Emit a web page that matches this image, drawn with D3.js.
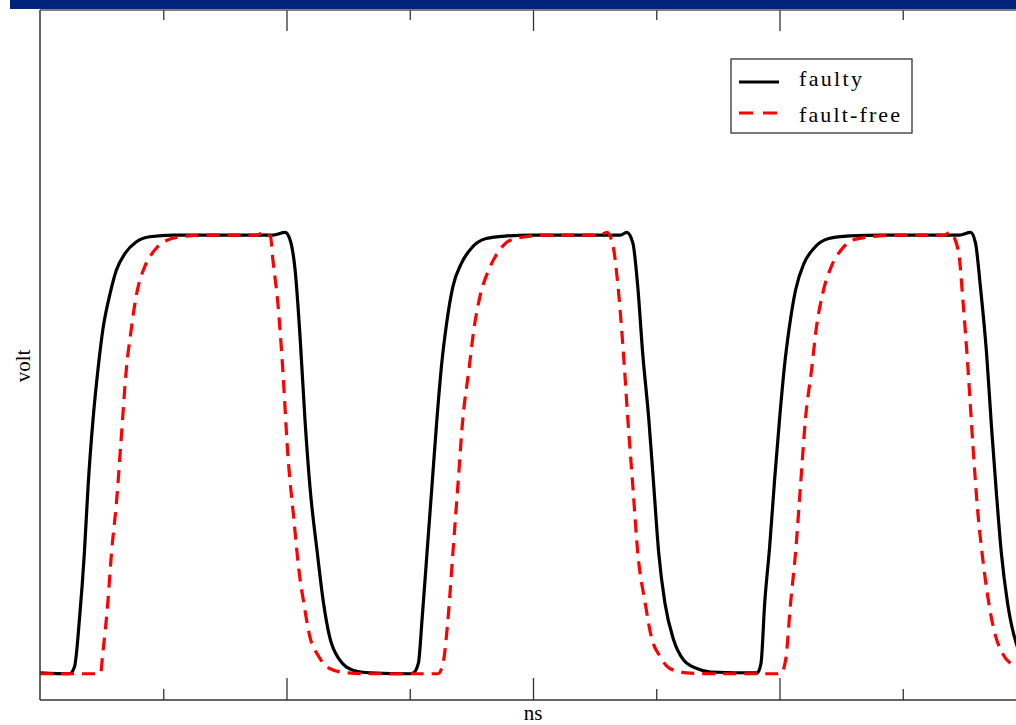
<!DOCTYPE html>
<html>
<head>
<meta charset="utf-8">
<script src="https://cdn.jsdelivr.net/npm/d3@7"></script>
<style>
  html, body { margin: 0; padding: 0; background: #fff; }
  svg { display: block; }
</style>
</head>
<body>
<div id="chart"></div>
<script>
// waveform samples: [ns, volt]
let faulty = [
    [0.00, 0.00], [0.24, -0.01], [0.28, 0.07], [0.32, 0.61], [0.36, 1.37], [0.39, 2.13],
    [0.43, 2.89], [0.47, 3.46], [0.51, 3.92], [0.57, 4.34], [0.62, 4.60], [0.69, 4.79],
    [0.78, 4.92], [0.89, 4.98], [1.08, 5.00], [1.89, 5.00], [1.99, 5.03], [2.03, 4.94],
    [2.07, 4.60], [2.11, 3.84], [2.15, 2.89], [2.19, 2.13], [2.25, 1.37], [2.30, 0.80],
    [2.35, 0.41], [2.43, 0.15], [2.54, 0.03], [2.68, 0.00],
    [3.00, -0.01], [3.03, 0.00], [3.07, 0.11], [3.10, 0.61], [3.14, 1.37], [3.18, 2.13],
    [3.22, 2.89], [3.26, 3.54], [3.30, 4.00], [3.35, 4.41], [3.42, 4.68], [3.50, 4.85],
    [3.62, 4.96], [3.79, 4.99], [3.98, 5.00], [4.71, 5.00], [4.76, 5.03], [4.81, 4.91],
    [4.85, 4.41], [4.89, 3.65], [4.94, 2.89], [4.98, 2.13], [5.02, 1.37], [5.07, 0.80],
    [5.14, 0.38], [5.22, 0.15], [5.33, 0.05], [5.44, 0.01],
    [5.82, 0.00], [5.85, 0.11], [5.88, 0.80], [5.92, 1.44], [5.96, 2.20], [6.00, 2.89],
    [6.04, 3.50], [6.08, 3.95], [6.13, 4.37], [6.20, 4.68], [6.28, 4.85], [6.40, 4.96],
    [6.57, 4.99], [6.84, 5.00], [7.46, 5.00], [7.55, 5.03], [7.59, 4.91], [7.63, 4.41],
    [7.68, 3.65], [7.72, 2.81], [7.76, 2.05], [7.80, 1.37], [7.85, 0.80], [7.92, 0.34],
    [7.99, 0.15]
];
let faultFree = [
    [0.00, -0.01], [0.49, -0.01], [0.51, 0.23], [0.55, 0.80], [0.58, 1.37], [0.62, 1.94],
    [0.66, 2.70], [0.70, 3.46], [0.74, 3.92], [0.78, 4.30], [0.85, 4.64], [0.92, 4.81],
    [1.00, 4.92], [1.14, 4.98], [1.35, 5.00], [1.76, 5.00], [1.81, 5.03], [1.87, 4.98],
    [1.89, 4.71], [1.93, 4.22], [1.97, 3.46], [2.01, 2.51], [2.06, 1.75], [2.10, 1.18],
    [2.14, 0.80], [2.19, 0.41], [2.26, 0.19], [2.35, 0.05], [2.49, 0.00], [2.68, -0.01],
    [3.23, -0.01], [3.27, 0.11], [3.31, 0.61], [3.35, 1.37], [3.39, 2.13], [3.43, 2.89],
    [3.48, 3.46], [3.52, 3.92], [3.57, 4.30], [3.64, 4.60], [3.71, 4.79], [3.79, 4.92],
    [3.89, 4.97], [4.11, 5.00], [4.54, 5.00], [4.60, 5.03], [4.65, 4.87], [4.69, 4.41],
    [4.73, 3.72], [4.77, 2.89], [4.81, 2.13], [4.85, 1.37], [4.91, 0.80], [4.96, 0.41],
    [5.03, 0.19], [5.11, 0.05], [5.25, 0.00], [5.44, -0.01],
    [6.01, -0.01], [6.05, 0.15], [6.09, 0.80], [6.13, 1.37], [6.17, 2.13], [6.21, 2.89],
    [6.26, 3.46], [6.30, 3.95], [6.35, 4.33], [6.42, 4.64], [6.50, 4.83], [6.59, 4.94],
    [6.73, 4.98], [6.95, 5.00], [7.34, 5.00], [7.38, 5.03], [7.45, 4.83], [7.49, 4.22],
    [7.53, 3.46], [7.57, 2.58], [7.61, 1.82], [7.65, 1.29], [7.69, 0.87], [7.74, 0.49],
    [7.81, 0.22], [7.89, 0.09], [8.03, 0.01]
];
let majorTicks = [2, 4, 6];
let minorTicks = [1, 3, 5, 7];
let legendNames = ['faulty', 'fault-free'];

let width = 1016, height = 725;
let margin = { left: 40, top: 10, bottom: 25 };

let svg = d3.select('#chart').append('svg')
    .attr('width', width)
    .attr('height', height);

// blue bar on top of the slide
svg.append('rect')
    .attr('x', 10).attr('y', 0)
    .attr('width', width - 10).attr('height', 9)
    .attr('fill', '#02237c');

let x = d3.scaleLinear().domain([0, 8]).range([margin.left, 1026]);
let y = d3.scaleLinear().domain([-0.31, 7.57]).range([height - margin.bottom, margin.top]);

svg.append('defs').append('clipPath').attr('id', 'plot')
    .append('rect')
    .attr('x', margin.left).attr('y', margin.top)
    .attr('width', width - margin.left).attr('height', height - margin.bottom - margin.top);

let line = d3.line()
    .x(d => x(d[0]))
    .y(d => y(d[1]))
    .curve(d3.curveMonotoneX);

let plot = svg.append('g').attr('clip-path', 'url(#plot)');
plot.append('path')
    .datum(faulty)
    .attr('d', line)
    .attr('fill', 'none')
    .attr('stroke', '#000')
    .attr('stroke-width', 3.2);
plot.append('path')
    .datum(faultFree)
    .attr('d', line)
    .attr('fill', 'none')
    .attr('stroke', '#ff0000')
    .attr('stroke-width', 3.2)
    .attr('stroke-dasharray', '13,8');

// axes: frame lines with inward ticks, no labels
function frameAxis(axisFn, ty, values, size) {
    let g = svg.append('g')
        .attr('transform', 'translate(0,' + ty + ')')
        .call(axisFn(x).tickValues(values).tickSize(size).tickSizeOuter(0).tickFormat(''));
    g.select('.domain').remove();
    g.selectAll('line').attr('stroke', '#333').attr('stroke-width', 1.3);
}
let yb = y(-0.31), yt = y(7.57);
frameAxis(d3.axisTop, yb, majorTicks, 22);
frameAxis(d3.axisTop, yb, minorTicks, 11);
frameAxis(d3.axisBottom, yt, majorTicks, 21);
frameAxis(d3.axisBottom, yt, minorTicks, 10);

svg.append('line')
    .attr('x1', margin.left).attr('x2', width)
    .attr('y1', yb).attr('y2', yb)
    .attr('stroke', '#333').attr('stroke-width', 1.5);
svg.append('line')
    .attr('x1', margin.left).attr('x2', width)
    .attr('y1', yt).attr('y2', yt)
    .attr('stroke', '#555').attr('stroke-width', 1.5);
svg.append('line')
    .attr('x1', margin.left).attr('x2', margin.left)
    .attr('y1', yt).attr('y2', yb)
    .attr('stroke', '#333').attr('stroke-width', 1.5);

// axis titles
svg.append('text')
    .attr('x', 533).attr('y', 720)
    .attr('text-anchor', 'middle')
    .attr('font-family', 'Liberation Serif, serif')
    .attr('font-size', 21)
    .text('ns');
svg.append('text')
    .attr('transform', 'translate(30,366) rotate(-90)')
    .attr('text-anchor', 'middle')
    .attr('font-family', 'Liberation Serif, serif')
    .attr('font-size', 21)
    .text('volt');

// legend
let legend = svg.append('g').attr('transform', 'translate(731,59)');
legend.append('rect')
    .attr('width', 181).attr('height', 74)
    .attr('fill', '#fff')
    .attr('stroke', '#333').attr('stroke-width', 1.3);
let rows = legend.selectAll('g.row').data(legendNames).enter()
    .append('g').attr('class', 'row');
rows.append('line')
    .attr('x1', 8).attr('x2', 48)
    .attr('y1', (d, i) => 23 + i * 31)
    .attr('y2', (d, i) => 23 + i * 31)
    .attr('stroke', (d, i) => i ? '#ff0000' : '#000')
    .attr('stroke-width', 3)
    .attr('stroke-dasharray', (d, i) => i ? '14,10' : null);
rows.append('text')
    .attr('x', 68)
    .attr('y', (d, i) => 27 + i * 36)
    .attr('font-family', 'Liberation Serif, serif')
    .attr('font-size', 22)
    .attr('textLength', (d, i) => i ? 101 : 63)
    .attr('lengthAdjust', 'spacing')
    .text(d => d);
</script>
</body>
</html>
